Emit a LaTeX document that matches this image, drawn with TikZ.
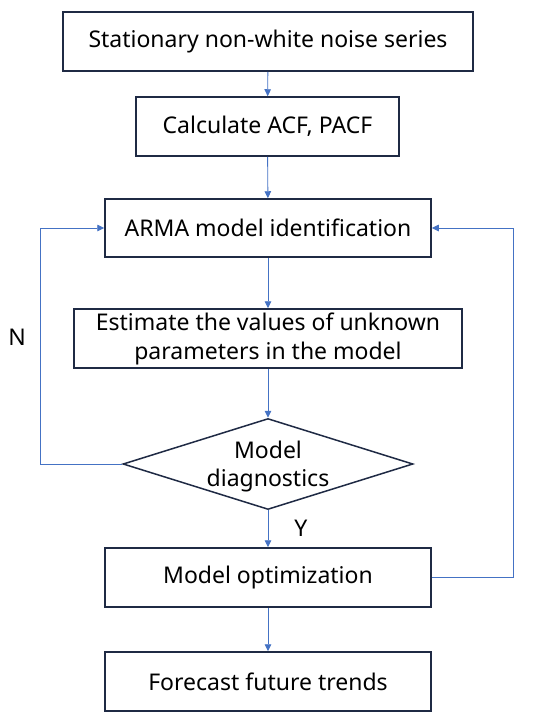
\documentclass[tikz,border=0pt]{standalone}
\usepackage{fontspec}
\setmainfont{Noto Sans}
\usetikzlibrary{arrows.meta,shapes.geometric}
\definecolor{boxline}{HTML}{1F2A44}
\definecolor{flowblue}{HTML}{4472C4}

\begin{document}
\begin{tikzpicture}[x=1pt,y=-1pt,
  box/.style={draw=boxline, line width=1.5pt, inner sep=0pt, align=center,
    font=\fontsize{23}{29}\selectfont},
  decision/.style={diamond, draw=boxline, line width=1.5pt, inner sep=0pt,
    minimum width=290pt, minimum height=91pt},
  flow/.style={draw=flowblue, line width=0.9pt, -{Triangle[length=7pt,width=6.5pt]}},
  tag/.style={font=\fontsize{23}{28}\selectfont}]
  % Page frame
  \useasboundingbox (0,0) rectangle (550,721);

  % Steps
  \node[box, minimum width=410pt, minimum height=59pt] (series) at (268,41.5)  {Stationary non-white noise series};
  \node[box, minimum width=263pt, minimum height=59pt] (acf)    at (267.5,126.5) {Calculate ACF, PACF};
  \node[box, minimum width=326pt, minimum height=58pt] (ident)  at (268,228)   {ARMA model identification};
  \node[box, minimum width=388pt, minimum height=59pt] (est)    at (268,338.5) {Estimate the values of unknown\\parameters in the model};
  \node[decision, label={[tag, align=center, yshift=-3pt]center:Model\\diagnostics}] (diag) at (268,464) {};
  \node[box, minimum width=326pt, minimum height=59pt] (opt)    at (268,577.5) {Model optimization};
  \node[box, minimum width=326pt, minimum height=59pt] (fore)   at (268,681.5) {Forecast future trends};

  % Main flow
  \draw[flow] (series) -- (acf);
  \draw[flow] (acf) -- (ident);
  \draw[flow] (ident) -- (est);
  \draw[flow] (est) -- (diag);
  \draw[flow] (diag) -- (opt);
  \draw[flow] (opt) -- (fore);

  % Feedback loops
  \draw[flow] (diag.west) -- ++(-82,0) |- (ident.west);
  \draw[flow] (opt.east) -- ++(82,0) |- (ident.east);

  % Branch labels
  \node[tag] (no)  at (17,337) {N};
  \node[tag] (yes) at (301,528) {Y};
\end{tikzpicture}
\end{document}
